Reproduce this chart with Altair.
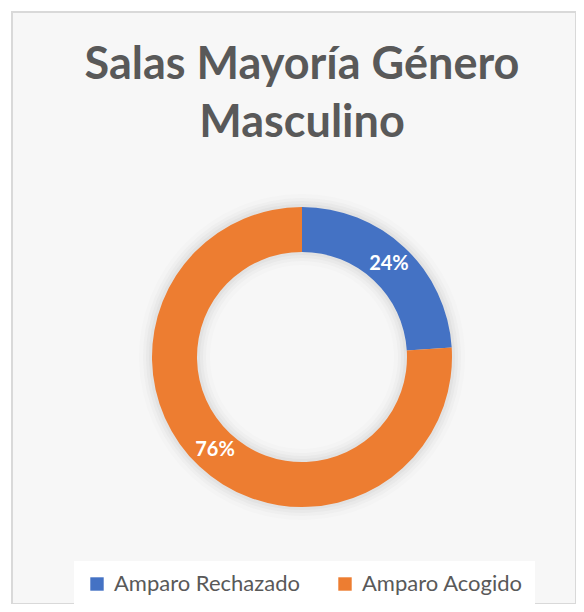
import altair as alt
import pandas as pd

categories = ["Amparo Rechazado", "Amparo Acogido"]
values = [24, 76]
labels = ["24%", "76%"]
colors = ["#4472C4", "#ED7D31"]
title_lines = ["Salas Mayoría Género", "Masculino"]

df = pd.DataFrame({"cat": categories, "val": values, "lab": labels, "ord": [0, 1]})

CX, CY = 290, 345
FONT = "Lato"

base = alt.Chart(df)

shadows = []
for r_out, r_in, op in [(163, 92, 0.025), (159, 96, 0.035), (156, 99, 0.045), (153, 102, 0.06)]:
    shadows.append(
        base.mark_arc(radius=r_out, radius2=r_in, color="#7f7f7f", opacity=op).encode(
            theta=alt.Theta("val:Q", stack=True),
            order=alt.Order("ord:Q"),
            x=alt.value(CX), y=alt.value(CY),
        )
    )

arcs = base.mark_arc(radius=150, radius2=105, stroke=None).encode(
    theta=alt.Theta("val:Q", stack=True),
    order=alt.Order("ord:Q"),
    color=alt.Color(
        "cat:N",
        scale=alt.Scale(domain=categories, range=colors),
        sort=categories,
        legend=alt.Legend(
            title=None, orient="none", direction="horizontal",
            legendX=62, legendY=549, fillColor="#ffffff",
            padding=12, symbolType="square", symbolSize=180,
            symbolStrokeWidth=0, labelFontSize=22, labelFont=FONT,
            labelColor="#595959", columnPadding=34, labelOffset=6,
            labelLimit=400,
        ),
    ),
    x=alt.value(CX), y=alt.value(CY),
)

text = base.mark_text(radius=127, fontSize=20, fontWeight="bold", font=FONT, color="white").encode(
    theta=alt.Theta("val:Q", stack=True),
    order=alt.Order("ord:Q"),
    text="lab:N",
    x=alt.value(CX), y=alt.value(CY),
)

t1 = alt.Chart(pd.DataFrame({"t": [title_lines[0]]})).mark_text(
    fontSize=45, fontWeight="bold", font=FONT, color="#595959", baseline="alphabetic", align="center"
).encode(text="t:N", x=alt.value(CX), y=alt.value(67))

t2 = alt.Chart(pd.DataFrame({"t": [title_lines[1]]})).mark_text(
    fontSize=45, fontWeight="bold", font=FONT, color="#595959", baseline="alphabetic", align="center"
).encode(text="t:N", x=alt.value(CX), y=alt.value(125))

chart = alt.layer(*shadows, arcs, text, t1, t2).properties(
    width=564, height=592,
    autosize=alt.AutoSizeParams(type="none"),
    padding={"left": 4, "top": 4, "right": 0, "bottom": 0},
    background="#ffffff",
).configure_view(fill="#f7f7f7", stroke="#d9d9d9", strokeWidth=2)

chart.save("out.html", embed_options={"renderer": "svg", "actions": False})
